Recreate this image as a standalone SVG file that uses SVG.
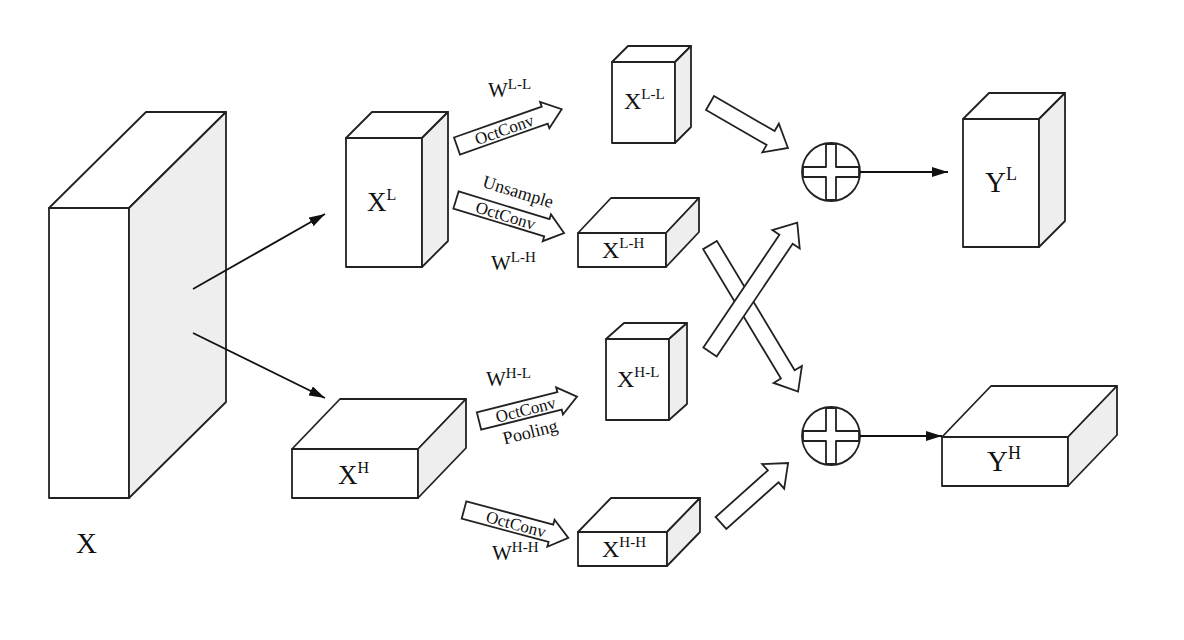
<svg xmlns="http://www.w3.org/2000/svg" width="1184" height="640" viewBox="0 0 1184 640">
<style>
.f{fill:#fff;stroke:#222;stroke-width:1.8;stroke-linejoin:round}
.s{fill:#eeeeee;stroke:#222;stroke-width:1.8;stroke-linejoin:round}
.t{font-family:"Liberation Serif","Times New Roman",serif;fill:#111}
.ln{stroke:#111;stroke-width:1.8;fill:none}
.ba{fill:#fff;stroke:#222;stroke-width:1.8;stroke-linejoin:miter}
</style>
<defs>
<marker id="ah" viewBox="0 0 16 10" refX="16" refY="5" markerWidth="16" markerHeight="10" markerUnits="userSpaceOnUse" orient="auto">
<path d="M0,0 L16,5 L0,10 Z" fill="#111"/>
</marker>
</defs>
<rect width="1184" height="640" fill="#fff"/>

<g id="X">
<rect class="f" x="49" y="208" width="80" height="290"/>
<polygon class="f" points="49,208 146,112 226,112 129,208"/>
<polygon class="s" points="129,208 226,112 226,402 129,498"/>
<text class="t" x="76" y="553" font-size="29">X</text>
</g>

<g id="XL">
<rect class="f" x="346" y="138" width="76" height="129"/>
<polygon class="f" points="346,138 372,112 448,112 422,138"/>
<polygon class="s" points="422,138 448,112 448,241 422,267"/>
<text class="t" x="367" y="211" font-size="27">X<tspan font-size="16" dy="-11">L</tspan></text>
</g>

<g id="XH">
<rect class="f" x="292" y="449" width="126" height="49"/>
<polygon class="f" points="292,449 340,399 466,399 418,449"/>
<polygon class="s" points="418,449 466,399 466,448 418,498"/>
<text class="t" x="338" y="484" font-size="27">X<tspan font-size="16" dy="-11">H</tspan></text>
</g>

<g id="XLL">
<rect class="f" x="612" y="62" width="63" height="81"/>
<polygon class="f" points="612,62 628,46 691,46 675,62"/>
<polygon class="s" points="675,62 691,46 691,127 675,143"/>
<text class="t" x="624" y="109" font-size="24">X<tspan font-size="15" dy="-10">L-L</tspan></text>
</g>

<g id="XLH">
<rect class="f" x="578" y="233" width="88" height="34"/>
<polygon class="f" points="578,233 611,198 699,198 666,233"/>
<polygon class="s" points="666,233 699,198 699,232 666,267"/>
<text class="t" x="602" y="258" font-size="24">X<tspan font-size="15" dy="-10">L-H</tspan></text>
</g>

<g id="XHL">
<rect class="f" x="606" y="339" width="63" height="81"/>
<polygon class="f" points="606,339 624,323 687,323 669,339"/>
<polygon class="s" points="669,339 687,323 687,404 669,420"/>
<text class="t" x="617" y="387" font-size="24">X<tspan font-size="15" dy="-10">H-L</tspan></text>
</g>

<g id="XHH">
<rect class="f" x="578" y="532" width="89" height="34"/>
<polygon class="f" points="578,532 611,498 700,498 667,532"/>
<polygon class="s" points="667,532 700,498 700,532 667,566"/>
<text class="t" x="602" y="557" font-size="24">X<tspan font-size="15" dy="-10">H-H</tspan></text>
</g>

<g id="YL">
<rect class="f" x="963" y="119" width="76" height="128"/>
<polygon class="f" points="963,119 989,93 1065,93 1039,119"/>
<polygon class="s" points="1039,119 1065,93 1065,221 1039,247"/>
<text class="t" x="985" y="192" font-size="29">Y<tspan font-size="18" dy="-12">L</tspan></text>
</g>

<g id="YH">
<rect class="f" x="942" y="437" width="126" height="49"/>
<polygon class="f" points="942,437 991,386 1117,386 1068,437"/>
<polygon class="s" points="1068,437 1117,386 1117,435 1068,486"/>
<text class="t" x="987" y="471" font-size="29">Y<tspan font-size="18" dy="-12">H</tspan></text>
</g>

<g id="plus1">
<circle class="f" cx="831" cy="172" r="29"/>
<path class="f" d="M826,144 H836 V167 H859 V177 H836 V200 H826 V177 H803 V167 H826 Z"/>
</g>

<g id="plus2">
<circle class="f" cx="831" cy="436" r="29"/>
<path class="f" d="M826,408 H836 V431 H859 V441 H836 V464 H826 V441 H803 V431 H826 Z"/>
</g>

<g id="connectors">
<line class="ln" x1="193" y1="289" x2="325" y2="214" marker-end="url(#ah)"/>
<line class="ln" x1="193" y1="333" x2="325" y2="398" marker-end="url(#ah)"/>
<line class="ln" x1="860" y1="172" x2="948" y2="172" marker-end="url(#ah)"/>
<line class="ln" x1="860" y1="436" x2="942" y2="436" marker-end="url(#ah)"/>

<g transform="translate(457,146) rotate(-19.4)">
<path class="ba" d="M0,-9 H93 V-14 L111,0 L93,14 V9 H0 Z"/>
<text class="t" x="50" y="6" font-size="17" text-anchor="middle">OctConv</text>
</g>
<g transform="translate(456,200) rotate(17)">
<path class="ba" d="M0,-9 H95 V-14 L113,0 L95,14 V9 H0 Z"/>
<text class="t" x="52" y="6" font-size="17" text-anchor="middle">OctConv</text>
<text class="t" x="57" y="-20" font-size="18" text-anchor="middle">Unsample</text>
</g>
<g transform="translate(479,421) rotate(-14)">
<path class="ba" d="M0,-9 H83 V-14 L101,0 L83,14 V9 H0 Z"/>
<text class="t" x="48" y="6" font-size="17" text-anchor="middle">OctConv</text>
<text class="t" x="47" y="29" font-size="18" text-anchor="middle">Pooling</text>
</g>
<g transform="translate(464,510) rotate(15)">
<path class="ba" d="M0,-9 H90 V-14 L108,0 L90,14 V9 H0 Z"/>
<text class="t" x="54" y="6" font-size="17" text-anchor="middle">OctConv</text>
</g>

<path class="ba" transform="translate(710,103) rotate(30)" d="M0,-8 H70 V-16.5 L90,0 L70,16.5 V8 H0 Z"/>
<path class="ba" transform="translate(710,245) rotate(59)" d="M0,-8 H151 V-16.5 L171,0 L151,16.5 V8 H0 Z"/>
<path class="ba" transform="translate(710,352) rotate(-56)" d="M0,-8 H136 V-16.5 L156,0 L136,16.5 V8 H0 Z"/>
<path class="ba" transform="translate(721,523) rotate(-41.8)" d="M0,-8 H70 V-16.5 L90,0 L70,16.5 V8 H0 Z"/>

<text class="t" x="488" y="97" font-size="21">W<tspan font-size="15" dy="-8">L-L</tspan></text>
<text class="t" x="491" y="270" font-size="21">W<tspan font-size="15" dy="-8">L-H</tspan></text>
<text class="t" x="486" y="386" font-size="21">W<tspan font-size="15" dy="-8">H-L</tspan></text>
<text class="t" x="492" y="560" font-size="21">W<tspan font-size="15" dy="-8">H-H</tspan></text>
</g>
</svg>
